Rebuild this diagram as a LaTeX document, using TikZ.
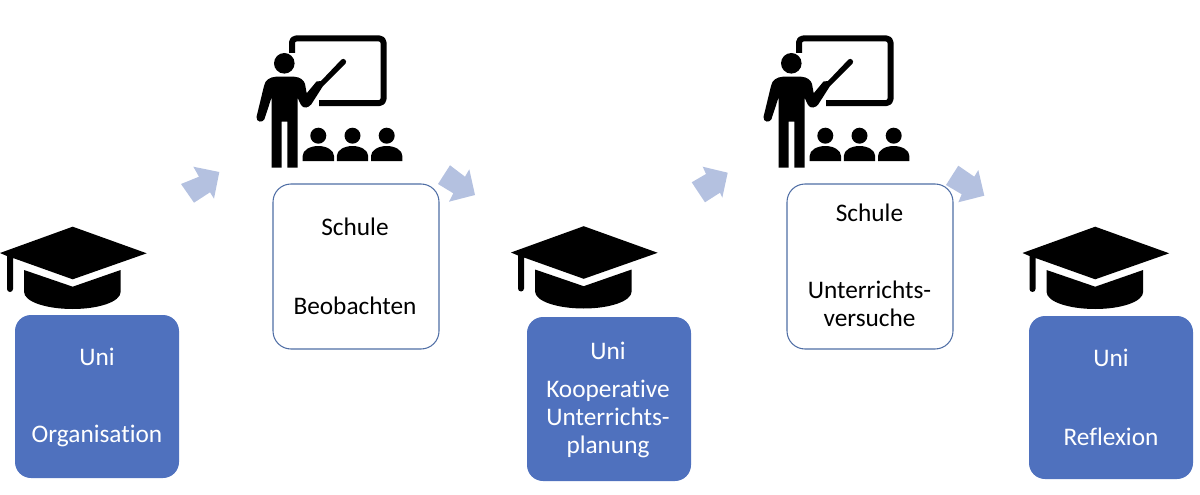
\documentclass[tikz,border=0pt]{standalone}
\usepackage{fontspec}
\setmainfont[Ligatures=NoCommon]{Carlito}
\definecolor{boxblue}{HTML}{4F71BE}
\definecolor{boxline}{HTML}{4F6EA5}
\definecolor{arrowblue}{HTML}{B4C1E0}
\tikzset{
  x=1pt,y=-1pt,
  bluebox/.style={draw=none,fill=boxblue,rounded corners=16pt,text=white},
  whitebox/.style={draw=boxline,line width=1.05pt,fill=white,rounded corners=18pt},
  label/.style={font=\fontsize{25.3}{27.7}\selectfont,text=black,inner sep=0pt,align=center},
  wlabel/.style={label,text=white},
  blockarrow/.style={fill=arrowblue,draw=none},
  hat/.pic={
    \fill[black] (72.7,226.7) -- (146.7,253.3) -- (72.7,279.3) -- (13,258) -- (13,289) arc[start angle=0,end angle=180,radius=3] -- (7,256) -- (0,253) -- cycle;
    \fill[black] (24,270) -- (72.7,286.7) -- (120.7,270) -- (120.7,291.7) .. controls (120.7,302) and (98,309) .. (72.7,309) .. controls (47,309) and (24,302) .. (24,291.7) -- cycle;
  },
  teacher/.pic={
    \draw[black,line width=6pt,line join=round,rounded corners=4pt] (292,53) -- (292,38.5) -- (383.5,38.5) -- (383.5,103) -- (319,103);
    \fill[black] (284.3,63.3) circle[radius=10.3];
    \fill[black] (271.7,167.5) -- (271.7,97) -- (264.5,119) .. controls (263,123) and (256,122.5) .. (256.5,117) -- (264,86) .. controls (265,80) and (270,77) .. (276,76.7) -- (294,76.7) .. controls (300,77) and (304,80) .. (305,84) -- (306.7,93.3) -- (316.5,81.5) -- (321,81) -- (341.5,59.5) .. controls (344,57.5) and (347.5,61) .. (345.5,63.5) -- (323,86) -- (311.5,104) .. controls (309,108) and (303,109) .. (301,105) -- (297.7,98) -- (297.7,167.5) -- (287.3,167.5) -- (287.3,121.7) -- (281.7,121.7) -- (281.7,167.5) -- cycle;
    \foreach \c in {318.3,352.5,386.7}{
      \fill[black] (\c,135.7) circle[radius=8];
      \fill[black] (\c-15.7,161) -- (\c-15.7,156) .. controls (\c-15.7,150) and (\c-8,146) .. (\c,146) .. controls (\c+8,146) and (\c+15.7,150) .. (\c+15.7,156) -- (\c+15.7,161) -- cycle;
    }
  }
}
\begin{document}
\begin{tikzpicture}
\useasboundingbox (0,0) rectangle (1200,495);
% arrows
\fill[blockarrow] (219.3,172) -- (193.3,166.7) -- (199,176.7) -- (181,184) -- (194,202.7) -- (210,192.3) -- (214,198.7) -- cycle;
\fill[blockarrow] (475,195) -- (469.3,169.3) -- (465,176.7) -- (450,165.3) -- (438,184) -- (453.3,193.3) -- (449,201.7) -- cycle;
\fill[blockarrow] (727.7,172.7) -- (702.7,166.7) -- (706,174) -- (691.7,182.3) -- (705,202.3) -- (720,192.7) -- (722.3,197.7) -- cycle;
\fill[blockarrow] (984.3,195.7) -- (978.3,170) -- (974.3,176.7) -- (958.3,165.7) -- (946,185) -- (961.7,194.3) -- (958.3,202.3) -- cycle;
% icons
\pic at (0,0) {hat};
\pic at (511,-0.5) {hat};
\pic at (1022.5,0) {hat};
\pic at (0,0) {teacher};
\pic at (507,0) {teacher};
% boxes
\node[bluebox,minimum width=164pt,minimum height=163pt] (b1) at (97,396.5) {};
\node[whitebox,minimum width=166pt,minimum height=165pt] (w1) at (356,266.5) {};
\node[bluebox,minimum width=164pt,minimum height=164pt] (b2) at (609,399) {};
\node[whitebox,minimum width=166pt,minimum height=165pt] (w2) at (870,266.5) {};
\node[bluebox,minimum width=164pt,minimum height=163pt] (b3) at (1111,397.5) {};
% text
\node[wlabel] (t1) at (97,357) {Uni};
\node[wlabel] (t2) at (97,435.5) {Organisation};
\node[label] (t3) at (355,227) {Schule};
\node[label] (t4) at (355,306) {Beobachten};
\node[wlabel] (t5) at (608,351) {Uni};
\node[wlabel] (t6) at (608,419) {Kooperative\\Unterrichts-\\planung};
\node[label] (t7) at (869.5,213) {Schule};
\node[label] (t8) at (869.5,304) {Unterrichts-\\versuche};
\node[wlabel] (t9) at (1111,358) {Uni};
\node[wlabel] (t10) at (1111,437) {Reflexion};
\end{tikzpicture}
\end{document}
